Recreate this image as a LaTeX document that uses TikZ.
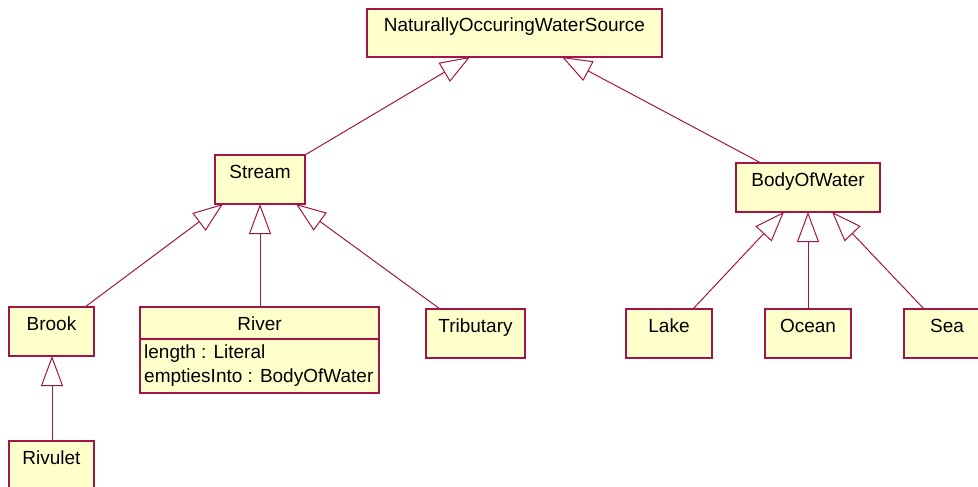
\documentclass[tikz,border=0pt]{standalone}
\usepackage{fontspec}
\setmainfont{Liberation Sans}
\usetikzlibrary{arrows.meta,calc}
\definecolor{umlred}{RGB}{165,20,70}
\definecolor{umlfill}{RGB}{255,255,204}
\tikzset{
  cls/.style={draw=umlred, fill=umlfill, line width=1.3pt, inner sep=0pt, outer sep=0pt, anchor=north west, rectangle},
  lbl/.style={inner sep=0pt, anchor=base, font=\fontsize{19}{22}\selectfont},
  attr/.style={inner sep=0pt, anchor=base west, font=\fontsize{19}{22}\selectfont},
  gen/.style={draw=umlred, line width=1pt, -{Triangle[open, length=30pt, width=22pt]}}
}
\begin{document}
\begin{tikzpicture}[x=1pt,y=-1pt]
\useasboundingbox (0,0) rectangle (978,487);
% class boxes
\node[cls, minimum width=295pt, minimum height=48pt] (nows) at (367,9) {};
\node[cls, minimum width=90pt, minimum height=49pt] (stream) at (215,155) {};
\node[cls, minimum width=144pt, minimum height=49pt] (bow) at (736,163) {};
\node[cls, minimum width=85pt, minimum height=49pt] (brook) at (9,307) {};
\node[cls, minimum width=239pt, minimum height=86pt] (river) at (140,307) {};
\node[cls, minimum width=99pt, minimum height=49pt] (trib) at (426,309) {};
\node[cls, minimum width=86pt, minimum height=49pt] (lake) at (626,309) {};
\node[cls, minimum width=86pt, minimum height=49pt] (ocean) at (765,309) {};
\node[cls, minimum width=80pt, minimum height=49pt] (sea) at (904,309) {};
\node[cls, minimum width=85pt, minimum height=60pt] (rivulet) at (9,441) {};
\draw[draw=umlred, line width=1.3pt] ($(river.north west)+(0,32)$) -- ($(river.north east)+(0,32)$);
% labels
\node[lbl] (nowsT) at ($(nows.north)+(0,23)$) {NaturallyOccuringWaterSource};
\node[lbl] (streamT) at ($(stream.north)+(0,23)$) {Stream};
\node[lbl] (bowT) at ($(bow.north)+(0,23)$) {BodyOfWater};
\node[lbl] (brookT) at ($(brook.north)+(0,23)$) {Brook};
\node[lbl] (riverT) at ($(river.north)+(0,23)$) {River};
\node[attr] (riverA1) at ($(river.north west)+(4,51)$) {length : Literal};
\node[attr] (riverA2) at ($(river.north west)+(4,75)$) {emptiesInto : BodyOfWater};
\node[lbl] (tribT) at ($(trib.north)+(0,23)$) {Tributary};
\node[lbl] (lakeT) at ($(lake.north)+(0,23)$) {Lake};
\node[lbl] (oceanT) at ($(ocean.north)+(0,23)$) {Ocean};
\node[lbl] (seaT) at ($(sea.north west)+(43,23)$) {Sea};
\node[lbl] (rivuletT) at ($(rivulet.north)+(0,23)$) {Rivulet};
% generalizations
\draw[gen] (stream.north east) -- ($(nows.south west)+(103,0)$);
\draw[gen] ($(bow.north west)+(25,0)$) -- ($(nows.south west)+(195,0)$);
\draw[gen] ($(brook.north west)+(76,0)$) -- ($(stream.south west)+(8,0)$);
\draw[gen] ($(river.north west)+(120,0)$) -- ($(stream.south west)+(45,0)$);
\draw[gen] ($(trib.north west)+(14,0)$) -- ($(stream.south west)+(81,0)$);
\draw[gen] ($(lake.north west)+(67,0)$) -- ($(bow.south west)+(48,0)$);
\draw[gen] ($(ocean.north west)+(43,0)$) -- ($(bow.south west)+(72,0)$);
\draw[gen] ($(sea.north west)+(20,0)$) -- ($(bow.south west)+(96,0)$);
\draw[gen] ($(rivulet.north west)+(43,0)$) -- ($(brook.south west)+(43,0)$);
\end{tikzpicture}
\end{document}
